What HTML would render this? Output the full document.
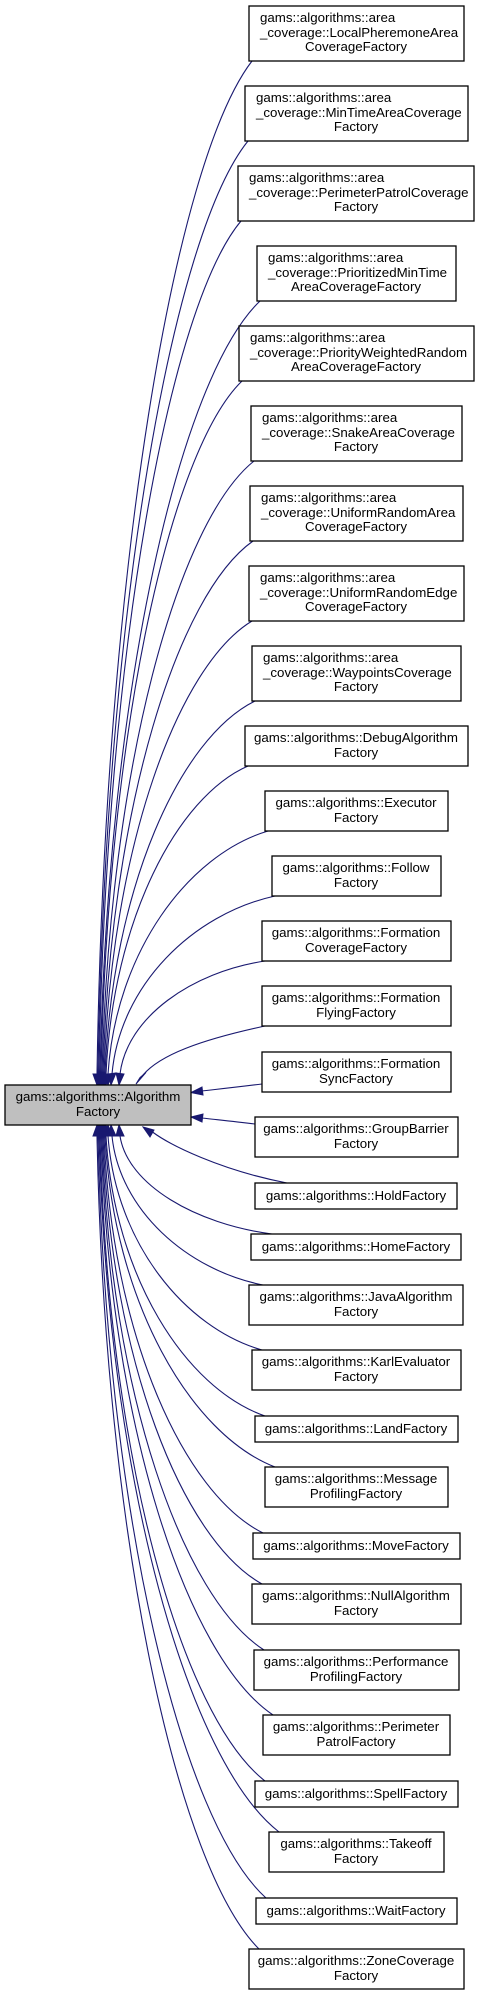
<!DOCTYPE html>
<html><head><meta charset="utf-8"><style>
html,body{margin:0;padding:0;background:#fff;}
svg{display:block;}
text{font-family:"Liberation Sans",sans-serif;font-size:13.3px;fill:#000;}
.b{fill:#fff;stroke:#000;stroke-width:1.3;}
.e{fill:none;stroke:#191970;stroke-width:1.1;}
.a{fill:#191970;stroke:#191970;}
</style></head><body>
<svg width="480" height="1997" viewBox="0 0 480 1997" xmlns="http://www.w3.org/2000/svg">
<!-- edges upper -->
<path class="e" d="M252,61 C174.5,162 105,567 97,1074"/>
<path class="e" d="M248,141 C173,234 105.5,607 98,1074"/>
<path class="e" d="M241,221 C170,306 106,647 99,1074"/>
<path class="e" d="M260,301 C180,378 108,687 100,1074"/>
<path class="e" d="M242,381 C171,450 108,727 101,1074"/>
<path class="e" d="M254,461 C178,522 109.6,767 102,1074"/>
<path class="e" d="M253,541 C178,594 110.5,807 103,1074"/>
<path class="e" d="M252,621 C178,666 111.4,847 104,1074"/>
<path class="e" d="M255,701 C180,738 112.5,887 105,1074"/>
<path class="e" d="M248,766 C177,797 113,920 106,1074"/>
<path class="e" d="M268,831 C188,855 116,952 108,1074"/>
<path class="e" d="M275,896 C193,914 120,985 112,1074"/>
<path class="e" d="M265,961 C192,972 127,1017 120,1074"/>
<path class="e" d="M265,1026 C200,1040 160,1055 143,1075"/>
<path class="e" d="M262,1084 C230,1088 210,1090 202,1091"/>
<path class="e" d="M255,1124 C230,1121 210,1119 202,1118"/>
<!-- edges lower -->
<path class="e" d="M287,1183 C220,1170 170,1145 152.5,1132"/>
<path class="e" d="M272,1234 C196,1224 127.6,1185 120,1136"/>
<path class="e" d="M263,1285 C187,1270 119.5,1210 112,1136"/>
<path class="e" d="M262,1350 C185,1328 115.7,1243 108,1136"/>
<path class="e" d="M265,1416 C185,1388 114,1276 106,1136"/>
<path class="e" d="M275,1467 C190,1434 113.5,1301 105,1136"/>
<path class="e" d="M263,1533 C183,1493 112,1334 104,1136"/>
<path class="e" d="M262,1584 C182,1539 111,1360 103,1136"/>
<path class="e" d="M264,1650 C183,1598 110,1393 102,1136"/>
<path class="e" d="M273,1715 C187,1657 109.6,1425 101,1136"/>
<path class="e" d="M265,1781 C182,1716 108,1458 100,1136"/>
<path class="e" d="M279,1832 C189,1762 108,1484 99,1136"/>
<path class="e" d="M266,1898 C182,1822 106.4,1517 98,1136"/>
<path class="e" d="M259,1949 C178,1868 105,1542 97,1136"/>
<!-- arrowheads top -->
<g class="a">
<polygon points="93,1074 101,1074 97,1085"/>
<polygon points="94,1074 102,1074 98,1085"/>
<polygon points="95,1074 103,1074 99,1085"/>
<polygon points="96,1074 104,1074 100,1085"/>
<polygon points="97,1074 105,1074 101,1085"/>
<polygon points="98,1074 106,1074 102,1085"/>
<polygon points="99,1074 107,1074 103,1085"/>
<polygon points="100,1074 108,1074 104,1085"/>
<polygon points="101,1074 109,1074 105,1085"/>
<polygon points="102,1074 110,1074 106,1085"/>
<polygon points="104,1074 112,1074 108,1085"/>
<polygon points="108,1074 116,1073 111,1085"/>
<polygon points="116,1073 124,1074 119,1085"/>
<polygon points="146,1072.4 140,1077.6 136,1084"/>
<polygon points="202,1087 203,1095 191,1092.5"/>
<polygon points="203,1114 202,1122 191,1117"/>
<polygon points="154,1130 150,1137 143,1127"/>
<polygon points="116,1136 124,1136 119,1125"/>
<polygon points="108,1136 116,1136 111,1125"/>
<polygon points="104,1136 112,1136 108,1125"/>
<polygon points="102,1136 110,1136 106,1125"/>
<polygon points="101,1136 109,1136 105,1125"/>
<polygon points="100,1136 108,1136 104,1125"/>
<polygon points="99,1136 107,1136 103,1125"/>
<polygon points="98,1136 106,1136 102,1125"/>
<polygon points="97,1136 105,1136 101,1125"/>
<polygon points="96,1136 104,1136 100,1125"/>
<polygon points="95,1136 103,1136 99,1125"/>
<polygon points="94,1136 102,1136 98,1125"/>
<polygon points="93,1136 101,1136 97,1125"/>
</g>
<!-- main node -->
<rect x="5" y="1085" width="186" height="40" fill="#bfbfbf" stroke="#000" stroke-width="1.3"/>
<text x="98" y="1101" text-anchor="middle">gams::algorithms::Algorithm</text>
<text x="98" y="1116" text-anchor="middle">Factory</text>

<!-- 3-line nodes -->
<rect class="b" x="249" y="6" width="215" height="55"/>
<text x="260" y="22">gams::algorithms::area</text><text x="260" y="37">_coverage::LocalPheremoneArea</text><text x="356" y="51" text-anchor="middle">CoverageFactory</text>
<rect class="b" x="245" y="86" width="223" height="55"/>
<text x="256" y="102">gams::algorithms::area</text><text x="256" y="117">_coverage::MinTimeAreaCoverage</text><text x="356" y="131" text-anchor="middle">Factory</text>
<rect class="b" x="238" y="166" width="236" height="55"/>
<text x="249" y="182">gams::algorithms::area</text><text x="249" y="197">_coverage::PerimeterPatrolCoverage</text><text x="356" y="211" text-anchor="middle">Factory</text>
<rect class="b" x="257" y="246" width="199" height="55"/>
<text x="268" y="262">gams::algorithms::area</text><text x="268" y="277">_coverage::PrioritizedMinTime</text><text x="356" y="291" text-anchor="middle">AreaCoverageFactory</text>
<rect class="b" x="239" y="326" width="235" height="55"/>
<text x="250" y="342">gams::algorithms::area</text><text x="250" y="357">_coverage::PriorityWeightedRandom</text><text x="356" y="371" text-anchor="middle">AreaCoverageFactory</text>
<rect class="b" x="251" y="406" width="211" height="55"/>
<text x="262" y="422">gams::algorithms::area</text><text x="262" y="437">_coverage::SnakeAreaCoverage</text><text x="356" y="451" text-anchor="middle">Factory</text>
<rect class="b" x="250" y="486" width="213" height="55"/>
<text x="261" y="502">gams::algorithms::area</text><text x="261" y="517">_coverage::UniformRandomArea</text><text x="356" y="531" text-anchor="middle">CoverageFactory</text>
<rect class="b" x="249" y="566" width="215" height="55"/>
<text x="260" y="582">gams::algorithms::area</text><text x="260" y="597">_coverage::UniformRandomEdge</text><text x="356" y="611" text-anchor="middle">CoverageFactory</text>
<rect class="b" x="252" y="646" width="209" height="55"/>
<text x="263" y="662">gams::algorithms::area</text><text x="263" y="677">_coverage::WaypointsCoverage</text><text x="356" y="691" text-anchor="middle">Factory</text>

<g text-anchor="middle">
<rect class="b" x="245" y="726" width="223" height="40"/>
<text x="356" y="742">gams::algorithms::DebugAlgorithm</text><text x="356" y="757">Factory</text>
<rect class="b" x="265" y="791" width="183" height="40"/>
<text x="356" y="807">gams::algorithms::Executor</text><text x="356" y="822">Factory</text>
<rect class="b" x="272" y="856" width="169" height="40"/>
<text x="356" y="872">gams::algorithms::Follow</text><text x="356" y="887">Factory</text>
<rect class="b" x="262" y="921" width="189" height="40"/>
<text x="356" y="937">gams::algorithms::Formation</text><text x="356" y="952">CoverageFactory</text>
<rect class="b" x="262" y="986" width="189" height="40"/>
<text x="356" y="1002">gams::algorithms::Formation</text><text x="356" y="1017">FlyingFactory</text>
<rect class="b" x="262" y="1052" width="189" height="40"/>
<text x="356" y="1068">gams::algorithms::Formation</text><text x="356" y="1083">SyncFactory</text>
<rect class="b" x="255" y="1117" width="203" height="40"/>
<text x="356" y="1133">gams::algorithms::GroupBarrier</text><text x="356" y="1148">Factory</text>
<rect class="b" x="255" y="1183" width="202" height="26"/>
<text x="356" y="1200">gams::algorithms::HoldFactory</text>
<rect class="b" x="251" y="1234" width="210" height="26"/>
<text x="356" y="1251">gams::algorithms::HomeFactory</text>
<rect class="b" x="249" y="1285" width="214" height="40"/>
<text x="356" y="1301">gams::algorithms::JavaAlgorithm</text><text x="356" y="1316">Factory</text>
<rect class="b" x="252" y="1350" width="209" height="40"/>
<text x="356" y="1366">gams::algorithms::KarlEvaluator</text><text x="356" y="1381">Factory</text>
<rect class="b" x="255" y="1416" width="203" height="26"/>
<text x="356" y="1433">gams::algorithms::LandFactory</text>
<rect class="b" x="265" y="1467" width="183" height="40"/>
<text x="356" y="1483">gams::algorithms::Message</text><text x="356" y="1498">ProfilingFactory</text>
<rect class="b" x="253" y="1533" width="207" height="26"/>
<text x="356" y="1550">gams::algorithms::MoveFactory</text>
<rect class="b" x="252" y="1584" width="209" height="40"/>
<text x="356" y="1600">gams::algorithms::NullAlgorithm</text><text x="356" y="1615">Factory</text>
<rect class="b" x="254" y="1650" width="205" height="40"/>
<text x="356" y="1666">gams::algorithms::Performance</text><text x="356" y="1681">ProfilingFactory</text>
<rect class="b" x="263" y="1715" width="187" height="40"/>
<text x="356" y="1731">gams::algorithms::Perimeter</text><text x="356" y="1746">PatrolFactory</text>
<rect class="b" x="255" y="1781" width="203" height="26"/>
<text x="356" y="1798">gams::algorithms::SpellFactory</text>
<rect class="b" x="269" y="1832" width="175" height="40"/>
<text x="356" y="1848">gams::algorithms::Takeoff</text><text x="356" y="1863">Factory</text>
<rect class="b" x="256" y="1898" width="201" height="26"/>
<text x="356" y="1915">gams::algorithms::WaitFactory</text>
<rect class="b" x="249" y="1949" width="215" height="40"/>
<text x="356" y="1965">gams::algorithms::ZoneCoverage</text><text x="356" y="1980">Factory</text>
</g>
</svg>
</body></html>
